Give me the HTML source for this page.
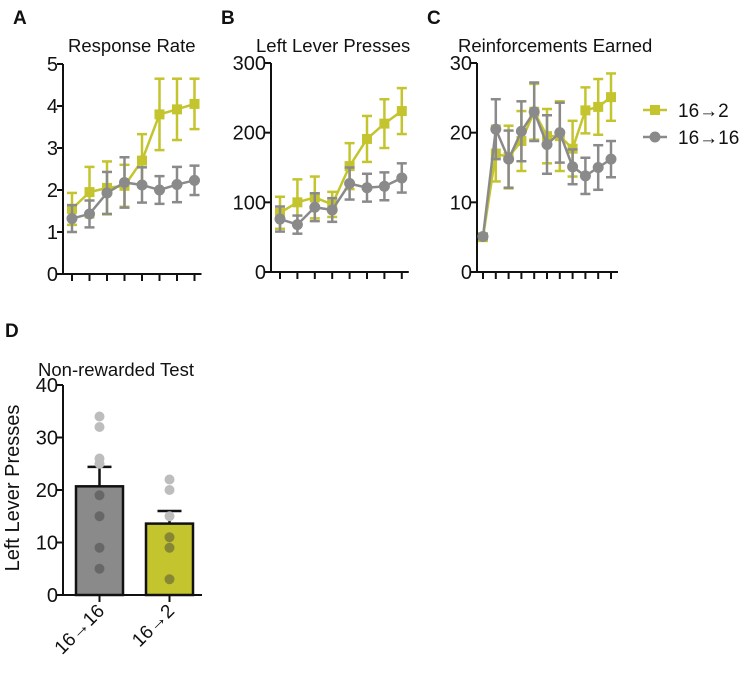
<!DOCTYPE html>
<html><head><meta charset="utf-8">
<style>
body{margin:0;background:#fff;}
svg text{font-family:"Liberation Sans","DejaVu Sans",sans-serif;fill:#111;}
</style></head>
<body>
<svg id="fig" width="744" height="669" xmlns="http://www.w3.org/2000/svg"></svg>
<script>
const aYellow=[1.55,1.95,2.05,2.1,2.7,3.8,3.92,4.05];
const aYellowErr=[0.38,0.6,0.63,0.5,0.63,0.85,0.73,0.6];
const aGray=[1.32,1.43,1.93,2.18,2.12,2.0,2.13,2.23];
const aGrayErr=[0.32,0.32,0.5,0.6,0.42,0.33,0.42,0.35];
const bYellow=[85,100,107,97,152,191,213,231];
const bYellowErr=[23,33,30,18,33,33,35,33];
const bGray=[76,68,93,89,127,121,123,135];
const bGrayErr=[18,13,20,17,23,20,20,21];
const cYellow=[5,17,16.5,18.8,23,19.5,19.5,17.7,23.2,23.7,25.1];
const cYellowErr=[0.3,4,4.5,4.3,4,3.9,5,4,3.3,4,3.4];
const cGray=[5.1,20.5,16.2,20.2,23,18.3,20,15.1,13.8,15,16.2];
const cGrayErr=[0.3,4.3,4.1,4.3,4.2,4.2,4.3,2.5,2.6,3.2,2.6];
const aTicks=[0,1,2,3,4,5];
const bTicks=[0,100,200,300];
const cTicks=[0,10,20,30];
const dTicks=[0,10,20,30,40];
const dGroups=["16→16","16→2"];
const dMeans=[20.7,13.6];
const dSems=[3.7,2.4];
const dPoints=[[34,32,26,25,19,15,9,5],[22,20,15,11,9,3]];

const YEL="#c4c42e",GRY="#8a8a8a";
const svg=document.getElementById('fig');
const NS="http://www.w3.org/2000/svg";
function mk(tag,attrs,parent){const e=document.createElementNS(NS,tag);for(const k in attrs)e.setAttribute(k,attrs[k]);(parent||svg).appendChild(e);return e;}
function txt(x,y,s,size,anchor,parent,weight){const t=mk('text',{x:x,y:y,'font-size':size,'text-anchor':anchor||'start','font-weight':weight||'normal'},parent);t.textContent=s;return t;}

function linePanel(name,letter,title,ax,y0,y1,ymax,ticks,x0,dx,series,titleX){
  const g=mk('g',{});
  
  
  const sy=v=>y0-(v/ymax)*(y0-y1);
  const n=series[0].vals.length;
  const sx=i=>x0+i*dx;
  const pl=txt(ax-50,24,letter,19,'start',g,'bold');
  
  
  const tt=txt(titleX,52,title,18.5,'start',g);
  
  
  const yax=mk('line',{x1:ax,y1:y1,x2:ax,y2:y0,stroke:'#111','stroke-width':2},g);
  
  
  const xend=sx(n-1)+7;
  const xax=mk('line',{x1:ax-6,y1:y0,x2:xend,y2:y0,stroke:'#111','stroke-width':2},g);
  
  
  ticks.forEach(t=>{
    mk('line',{x1:ax-6,x2:ax,y1:sy(t),y2:sy(t),stroke:'#111','stroke-width':2},g);
    const l=txt(ax-5,sy(t)+7,String(t),20,'end',g);
    
    
  });
  for(let i=0;i<n;i++) mk('line',{x1:sx(i),x2:sx(i),y1:y0,y2:y0+7,stroke:'#111','stroke-width':2},g);
  series.forEach(s=>{
    const sg=mk('g',{},g);
    
    
    s.vals.forEach((v,i)=>{
      const e=s.err[i];
      mk('line',{x1:sx(i),x2:sx(i),y1:sy(v-e),y2:sy(v+e),stroke:s.color,'stroke-width':2.5},sg);
      mk('line',{x1:sx(i)-5,x2:sx(i)+5,y1:sy(v-e),y2:sy(v-e),stroke:s.color,'stroke-width':2.5},sg);
      mk('line',{x1:sx(i)-5,x2:sx(i)+5,y1:sy(v+e),y2:sy(v+e),stroke:s.color,'stroke-width':2.5},sg);
    });
    mk('polyline',{points:s.vals.map((v,i)=>sx(i)+','+sy(v)).join(' '),fill:'none',stroke:s.color,'stroke-width':2.5},sg);
    s.vals.forEach((v,i)=>{
      let m;
      if(s.shape==='sq') m=mk('rect',{x:sx(i)-5,y:sy(v)-5,width:10,height:10,fill:s.color},sg);
      else m=mk('circle',{cx:sx(i),cy:sy(v),r:5.5,fill:s.color},sg);
      
      
    });
  });
}
linePanel('panel-a-response-rate','A','Response Rate',63,274,64,5,aTicks,72,17.5,[
  {name:'series-16-2',vals:aYellow,err:aYellowErr,color:YEL,shape:'sq'},
  {name:'series-16-16',vals:aGray,err:aGrayErr,color:GRY,shape:'c'}],68);
linePanel('panel-b-left-lever','B','Left Lever Presses',271,272,63,300,bTicks,280,17.4,[
  {name:'series-16-2',vals:bYellow,err:bYellowErr,color:YEL,shape:'sq'},
  {name:'series-16-16',vals:bGray,err:bGrayErr,color:GRY,shape:'c'}],256);
linePanel('panel-c-reinforcements','C','Reinforcements Earned',477,272,63,30,cTicks,483,12.8,[
  {name:'series-16-2',vals:cYellow,err:cYellowErr,color:YEL,shape:'sq'},
  {name:'series-16-16',vals:cGray,err:cGrayErr,color:GRY,shape:'c'}],458);

const lg=mk('g',{});


[[YEL,'sq','16→2',110],[GRY,'c','16→16',137]].forEach(d=>{
  const e=mk('g',{},lg);
  
  
  mk('line',{x1:643,x2:667,y1:d[3],y2:d[3],stroke:d[0],'stroke-width':2.5},e);
  if(d[1]==='sq') mk('rect',{x:650,y:d[3]-5,width:10,height:10,fill:d[0]},e);
  else mk('circle',{cx:655,cy:d[3],r:5.5,fill:d[0]},e);
  txt(678,d[3]+7,d[2],19,'start',e);
});

(function(){
  const g=mk('g',{});
  
  
  const ax=63,y0=595,y1=385,ymax=40;
  const sy=v=>y0-(v/ymax)*(y0-y1);
  const pl=txt(5,337,'D',19,'start',g,'bold');
  
  
  const tt=txt(38,376,'Non-rewarded Test',18.5,'start',g);
  
  
  const yt=txt(0,0,'Left Lever Presses',20,'middle',g);
  yt.setAttribute('transform','translate(19,488) rotate(-90)');
  
  
  const barX=[99.5,169.5],colors=[GRY,YEL],bw=47;
  dMeans.forEach((m,i)=>{
    const cx=barX[i];
    mk('line',{x1:cx,x2:cx,y1:sy(m),y2:sy(m+dSems[i]),stroke:'#111','stroke-width':2.5},g);
    mk('line',{x1:cx-12,x2:cx+12,y1:sy(m+dSems[i]),y2:sy(m+dSems[i]),stroke:'#111','stroke-width':2.5},g);
    const b=mk('rect',{x:cx-bw/2,y:sy(m),width:bw,height:y0-sy(m),fill:colors[i],stroke:'#111','stroke-width':2.5},g);
    
    
    dPoints[i].forEach(p=>{
      const inside=p<m;
      const c=mk('circle',{cx:cx,cy:sy(p),r:5,fill:inside?'rgba(60,60,60,0.45)':'#bdbdbd'},g);
      
      
    });
    mk('line',{x1:cx,x2:cx,y1:y0,y2:y0+7,stroke:'#111','stroke-width':2},g);
    const l=txt(0,0,dGroups[i],19,'end',g);
    l.setAttribute('transform','translate('+(cx+6)+','+(y0+17)+') rotate(-45)');
    
    
  });
  const yax=mk('line',{x1:ax,y1:y1,x2:ax,y2:y0,stroke:'#111','stroke-width':2},g);
  
  
  const xax=mk('line',{x1:ax-6,y1:y0,x2:202,y2:y0,stroke:'#111','stroke-width':2},g);
  
  
  dTicks.forEach(t=>{
    mk('line',{x1:ax-6,x2:ax,y1:sy(t),y2:sy(t),stroke:'#111','stroke-width':2},g);
    const l=txt(ax-5,sy(t)+7,String(t),20,'end',g);
    
    
  });
})();
</script>
</body></html>
